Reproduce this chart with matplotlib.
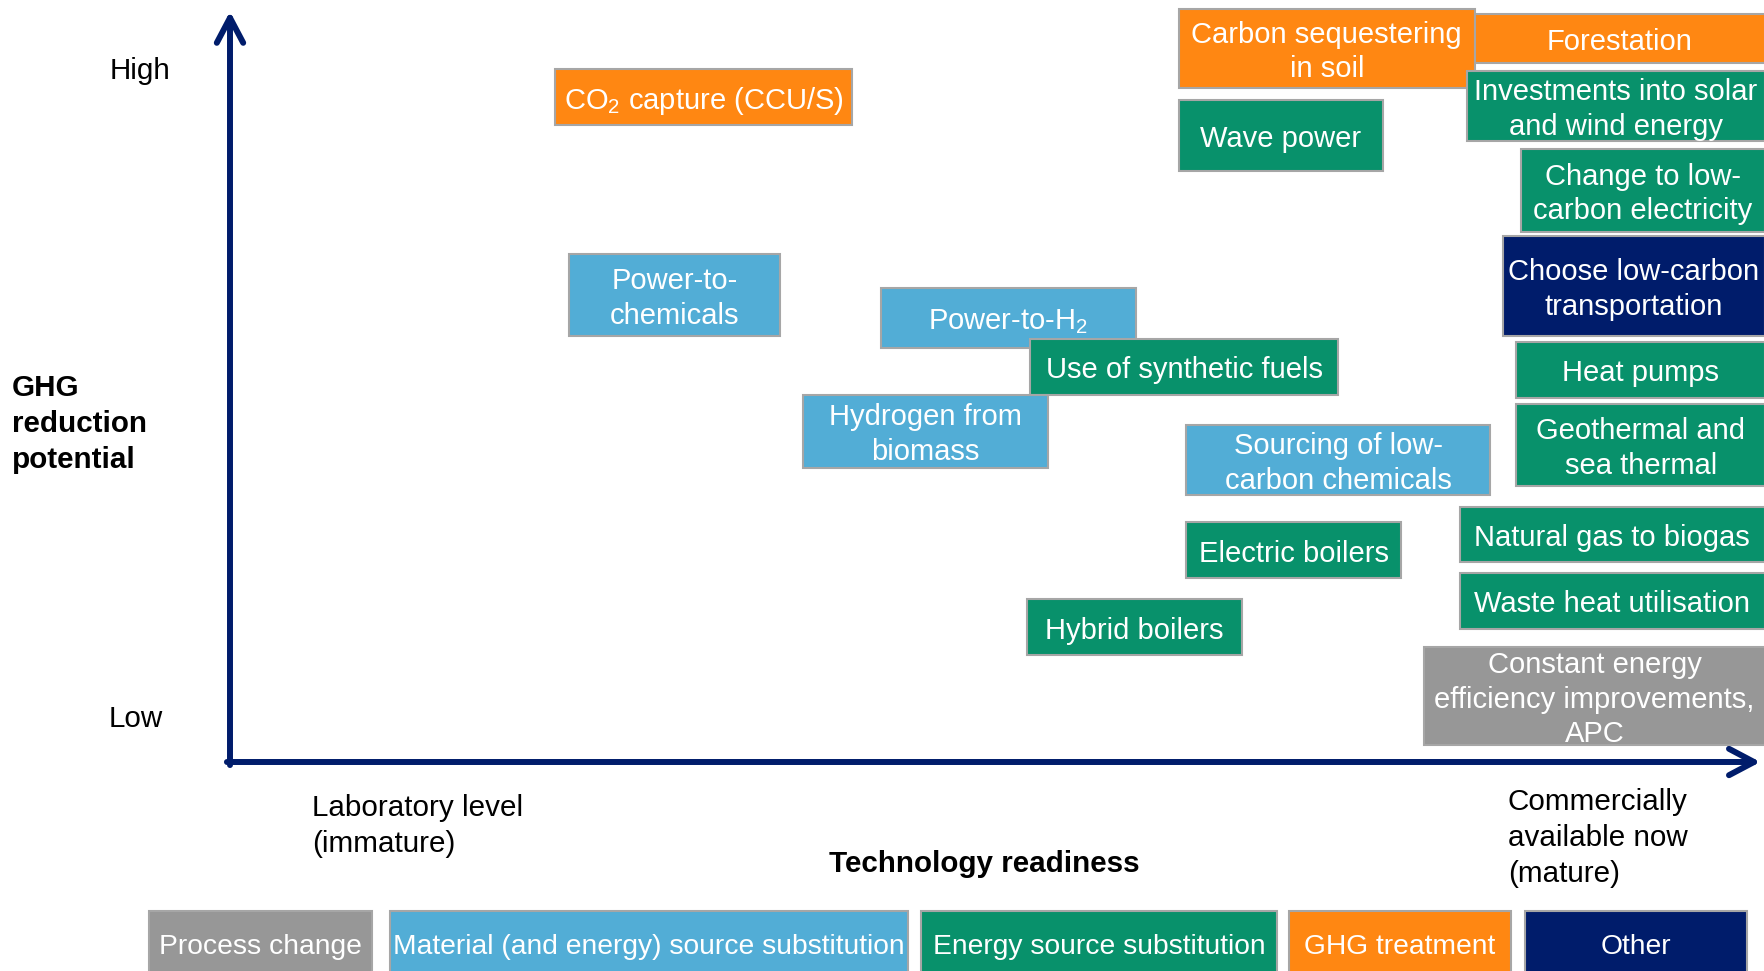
import matplotlib.pyplot as plt
from matplotlib.patches import Rectangle

plt.rcParams["font.family"] = ["Liberation Sans", "DejaVu Sans"]
plt.rcParams["mathtext.fontset"] = "custom"
plt.rcParams["mathtext.rm"] = "Liberation Sans"
plt.rcParams["mathtext.it"] = "Liberation Sans:italic"
plt.rcParams["mathtext.bf"] = "Liberation Sans:bold"

# Technologies: readiness (x, 0-100) and GHG reduction potential (y, 0-100) ranges
labels = [
    "CO$_2$ capture (CCU/S)",
    "Carbon sequestering\nin soil",
    "Forestation",
    "Wave power",
    "Investments into solar\nand wind energy",
    "Change to low-\ncarbon electricity",
    "Choose low-carbon\ntransportation",
    "Power-to-\nchemicals",
    "Power-to-H$_2$",
    "Use of synthetic fuels",
    "Heat pumps",
    "Hydrogen from\nbiomass",
    "Sourcing of low-\ncarbon chemicals",
    "Geothermal and\nsea thermal",
    "Natural gas to biogas",
    "Electric boilers",
    "Waste heat utilisation",
    "Hybrid boilers",
    "Constant energy\nefficiency improvements,\nAPC",
]
categories = [
    "GHG treatment", "GHG treatment", "GHG treatment",
    "Energy source substitution", "Energy source substitution",
    "Energy source substitution", "Other",
    "Material (and energy) source substitution",
    "Material (and energy) source substitution",
    "Energy source substitution", "Energy source substitution",
    "Material (and energy) source substitution",
    "Material (and energy) source substitution",
    "Energy source substitution", "Energy source substitution",
    "Energy source substitution", "Energy source substitution",
    "Energy source substitution", "Process change",
]
readiness_lo = [21.2, 61.8, 81.1, 61.8, 80.6, 84.1, 82.9, 22.1, 42.4, 52.1,
                83.8, 37.3, 62.3, 83.8, 80.1, 62.3, 80.1, 51.9, 77.8]
readiness_hi = [40.5, 81.1, 100.0, 75.1, 100.0, 100.0, 100.0, 35.8, 59.0, 72.2,
                100.0, 53.3, 82.1, 100.0, 100.0, 76.3, 100.0, 65.9, 100.0]
potential_lo = [83.6, 88.5, 91.7, 77.6, 81.5, 69.6, 55.9, 55.9, 54.3, 48.2,
                47.8, 38.6, 35.0, 36.2, 26.2, 24.1, 17.5, 14.0, 2.2]
potential_hi = [90.9, 98.8, 98.2, 86.9, 90.7, 80.4, 69.0, 66.7, 62.2, 55.5,
                55.1, 48.2, 44.2, 47.0, 33.5, 31.5, 24.8, 21.4, 15.1]

legend_names = [
    "Process change",
    "Material (and energy) source substitution",
    "Energy source substitution",
    "GHG treatment",
    "Other",
]

colors = {
    "Process change": "#979797",
    "Material (and energy) source substitution": "#52ADD6",
    "Energy source substitution": "#08916B",
    "GHG treatment": "#FF8712",
    "Other": "#001C6B",
}
axis_color = "#001C6B"
edge_color = "#A6A6A6"

W, H = 1765, 971


def fx(px):
    return px / W


def fy(py):
    return 1 - py / H


fig = plt.figure(figsize=(W / 100, H / 100), dpi=100)
ax = fig.add_axes([fx(230), fy(762), fx(W - 230), 762 / H])
ax.set_xlim(0, 100)
ax.set_ylim(0, 100)
ax.axis("off")

# axes arrows
arrow = dict(arrowstyle="->,head_length=1.8,head_width=0.95", lw=4.3,
             color=axis_color, shrinkA=0, shrinkB=0, capstyle="round")
ax.annotate("", xy=(99.7, 0), xytext=(-0.2, 0), arrowprops=arrow,
            annotation_clip=False)
ax.annotate("", xy=(0, 98.5), xytext=(0, -0.4), arrowprops=arrow,
            annotation_clip=False)

for i, label in enumerate(labels):
    x0, x1 = readiness_lo[i], readiness_hi[i]
    y0, y1 = potential_lo[i], potential_hi[i]
    ax.add_patch(Rectangle((x0, y0), x1 - x0, y1 - y0,
                           facecolor=colors[categories[i]],
                           edgecolor=edge_color, lw=1.5, zorder=2 + i,
                           clip_on=False))
    ax.text((x0 + x1) / 2, (y0 + y1) / 2 - 0.45, label, ha="center",
            va="center", color="white", fontsize=21, linespacing=1.3,
            zorder=2 + i, multialignment="center", clip_on=False)

# axis texts
fig.text(fx(110), fy(71), "High", ha="left", va="center", fontsize=21.3)
fig.text(fx(109), fy(719), "Low", ha="left", va="center", fontsize=21.3)
fig.text(fx(12), fy(424), "GHG\nreduction\npotential", ha="left",
         va="center", fontsize=21.3, fontweight="bold", linespacing=1.35)
fig.text(fx(312), fy(826), "Laboratory level\n(immature)", ha="left",
         va="center", fontsize=21.3, linespacing=1.35)
fig.text(fx(1508), fy(838), "Commercially\navailable now\n(mature)",
         ha="left", va="center", fontsize=21.3, linespacing=1.35)
fig.text(fx(984), fy(864), "Technology readiness", ha="center",
         va="center", fontsize=21.3, fontweight="bold")

# legend strip
legend_left = [149, 390, 921, 1289, 1525]
legend_right = [372, 908, 1277, 1511, 1747]
for name, l, r in zip(legend_names, legend_left, legend_right):
    fig.add_artist(Rectangle((fx(l), fy(990)), fx(r - l), (990 - 911) / H,
                             transform=fig.transFigure,
                             facecolor=colors[name], edgecolor=edge_color,
                             lw=1.5))
    fig.text(fx((l + r) / 2), fy(947), name, ha="center", va="center",
             color="white", fontsize=20.3)

fig.savefig("out.png", dpi=100)
plt.close(fig)
